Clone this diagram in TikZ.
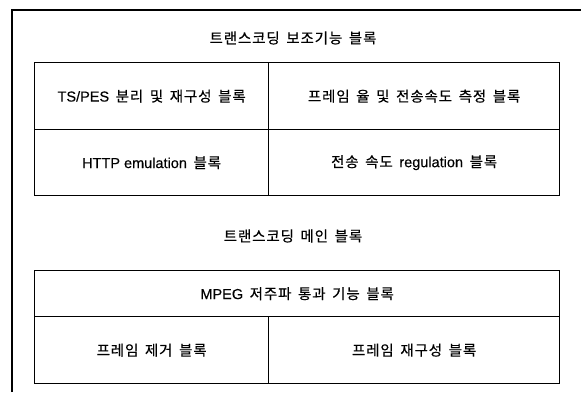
\documentclass[tikz,border=0pt]{standalone}
\usepackage{fontspec}
\setmainfont{Noto Sans CJK KR}[LetterSpace=6,WordSpace=1.6,FakeBold=0.4]
\newfontfamily\lat{Liberation Sans}[FakeBold=0.3]
\begin{document}
\begin{tikzpicture}[x=1pt,y=-1pt,
  frame/.style={line width=1.3pt},
  cell/.style={draw, line width=1.3pt, anchor=north west, inner sep=0pt, font=\fontsize{14.5}{16}\selectfont},
  title/.style={font=\fontsize{14.5}{16}\selectfont, inner sep=0pt}]
\useasboundingbox (0,0) rectangle (581,392);
% outer frame (cropped at right and bottom)
\coordinate (fbl) at (12,392);
\coordinate (ftl) at (12,10);
\coordinate (ftr) at (581,10);
\draw[frame] (fbl) -- (ftl) -- (ftr);
% titles
\node[title] (t1) at (293,38) {트랜스코딩 보조기능 블록};
\node[title] (t2) at (293,236) {트랜스코딩 메인 블록};
% top table
\node[cell, minimum width=234pt, minimum height=67pt] (ts) at (34,62) {{\lat TS/PES} 분리 및 재구성 블록};
\node[cell, minimum width=291pt, minimum height=67pt] (fr) at (268,62) {프레임 율 및 전송속도 측정 블록};
\node[cell, minimum width=234pt, minimum height=66pt] (http) at (34,129) {{\lat HTTP emulation} 블록};
\node[cell, minimum width=291pt, minimum height=66pt] (reg) at (268,129) {전송 속도 {\lat regulation} 블록};
% bottom table
\node[cell, minimum width=525pt, minimum height=46pt] (mpeg) at (34,270) {{\lat MPEG} 저주파 통과 기능 블록};
\node[cell, minimum width=234pt, minimum height=67pt] (rm) at (34,316) {프레임 제거 블록};
\node[cell, minimum width=291pt, minimum height=67pt] (rc) at (268,316) {프레임 재구성 블록};
\end{tikzpicture}
\end{document}
